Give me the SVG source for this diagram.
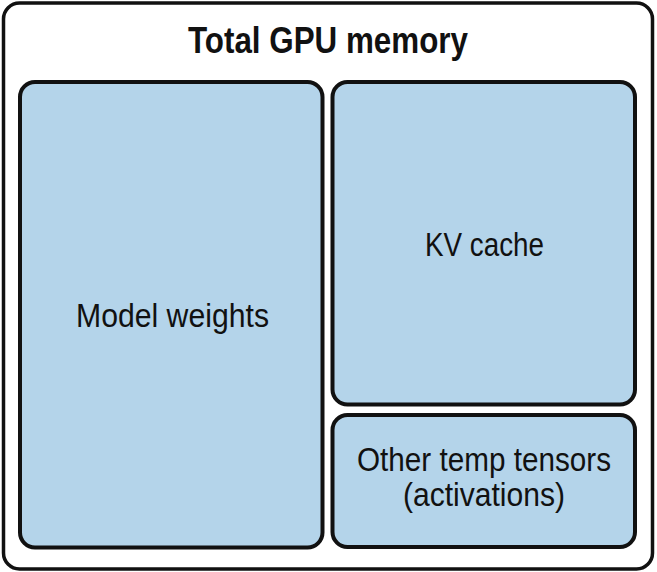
<svg xmlns="http://www.w3.org/2000/svg" width="657" height="572" viewBox="0 0 657 572">
  <style>
    .frame { fill: #ffffff; stroke: #111111; stroke-width: 3.5; }
    .box { fill: #b4d4ea; stroke: #111111; stroke-width: 4; }
    .title { font-family: "Liberation Sans", Arial, sans-serif; font-size: 36px; font-weight: 600; fill: #111111; text-anchor: middle; }
    .label { font-family: "Liberation Sans", Arial, sans-serif; font-size: 33px; fill: #111111; text-anchor: middle; }
  </style>
  <rect width="657" height="572" fill="#ffffff"/>
  <g id="total-gpu-memory">
    <rect class="frame" x="3.5" y="3" width="649" height="566" rx="16"/>
    <text class="title" x="328" y="53" textLength="280" lengthAdjust="spacingAndGlyphs">Total GPU memory</text>
  </g>
  <g id="model-weights">
    <rect class="box" x="20" y="82" width="302.5" height="465.5" rx="15"/>
    <text class="label" x="172.5" y="327" textLength="193" lengthAdjust="spacingAndGlyphs">Model weights</text>
  </g>
  <g id="kv-cache">
    <rect class="box" x="332.5" y="82" width="302.5" height="322.5" rx="15"/>
    <text class="label" x="484.5" y="256" textLength="119" lengthAdjust="spacingAndGlyphs">KV cache</text>
  </g>
  <g id="other-temp-tensors">
    <rect class="box" x="332.5" y="415" width="302.5" height="132" rx="15"/>
    <text class="label" x="484" y="471" textLength="254" lengthAdjust="spacingAndGlyphs">Other temp tensors</text>
    <text class="label" x="484" y="506" textLength="162" lengthAdjust="spacingAndGlyphs">(activations)</text>
  </g>
  <g id="connectors"/>
</svg>
